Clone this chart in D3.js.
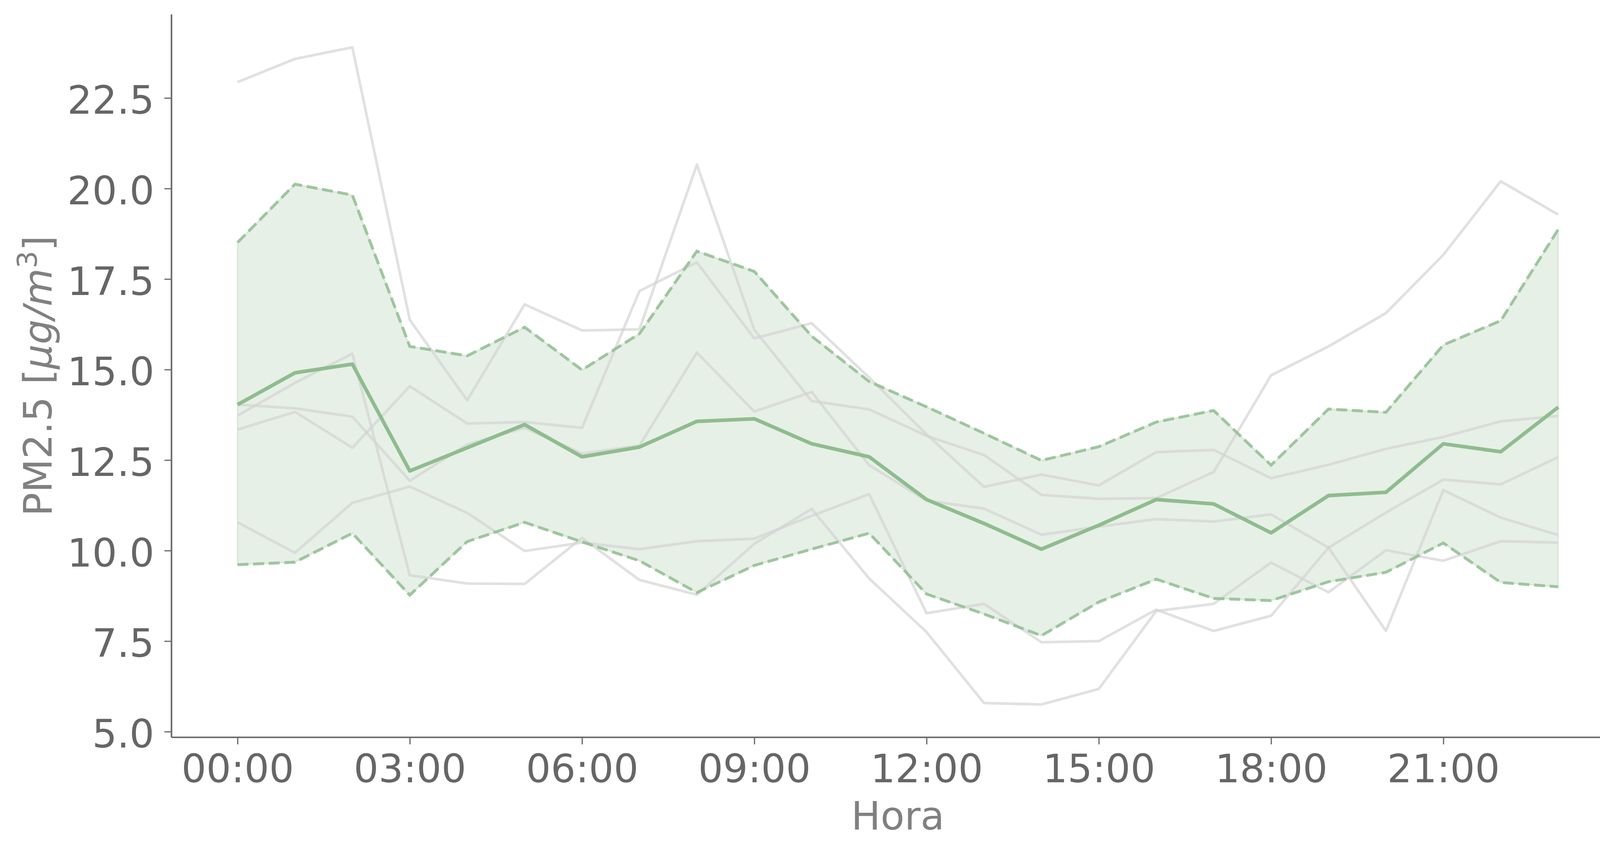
<!DOCTYPE html>
<html>
<head>
<meta charset="utf-8">
<script src="https://cdn.jsdelivr.net/npm/d3@7"></script>
<style>
  body { margin: 0; background: #ffffff; }
  svg { display: block; font-family: "DejaVu Sans", sans-serif; }
</style>
</head>
<body>
<div id="chart"></div>
<script>
const hours = [0, 1, 2, 3, 4, 5, 6, 7, 8, 9, 10, 11, 12, 13, 14, 15, 16, 17, 18, 19, 20, 21, 22, 23];
const xTicks = [0, 3, 6, 9, 12, 15, 18, 21];
const xTickLabels = ['00:00', '03:00', '06:00', '09:00', '12:00', '15:00', '18:00', '21:00'];
const yTicks = [5.0, 7.5, 10.0, 12.5, 15.0, 17.5, 20.0, 22.5];

// mean and mean +/- std
const meanSeries = [14.03, 14.91, 15.15, 12.20, 12.84, 13.48, 12.59, 12.86, 13.57, 13.64, 12.95, 12.59, 11.41, 10.75, 10.04, 10.70, 11.41, 11.29, 10.49, 11.52, 11.61, 12.95, 12.73, 13.96];
const upperSeries = [18.51, 20.12, 19.82, 15.64, 15.38, 16.17, 14.99, 15.99, 18.27, 17.71, 15.92, 14.67, 13.97, 13.24, 12.49, 12.87, 13.55, 13.87, 12.36, 13.91, 13.82, 15.68, 16.35, 18.87];
const lowerSeries = [9.61, 9.68, 10.48, 8.77, 10.25, 10.78, 10.24, 9.72, 8.84, 9.59, 10.04, 10.48, 8.80, 8.25, 7.65, 8.58, 9.21, 8.68, 8.62, 9.14, 9.40, 10.21, 9.12, 9.00];

// individual profiles (grey)
const dayA = [22.94, 23.58, 23.90, 16.37, 14.15, 16.80, 16.08, 16.11, 20.66, 16.10, 14.13, 13.90, 13.17, 12.64, 11.54, 11.43, 11.45, 12.17, 14.84, 15.64, 16.56, 18.17, 20.20, 19.28];
const dayB = [13.34, 13.83, 12.84, 14.54, 13.51, 13.55, 13.39, 17.17, 17.96, 15.86, 16.28, 14.78, 13.21, 11.76, 12.10, 11.80, 12.72, 12.78, 12.00, 12.37, 12.81, 13.14, 13.57, 13.72];
const dayC = [14.03, 13.93, 13.70, 11.93, 12.93, 13.39, 12.68, 12.90, 15.47, 13.84, 14.38, 12.36, 11.38, 11.16, 10.44, 10.66, 10.87, 10.80, 11.00, 10.08, 7.78, 11.67, 10.91, 10.43];
const dayD = [10.78, 9.94, 11.32, 11.77, 11.04, 9.99, 10.22, 10.04, 10.26, 10.33, 10.96, 11.56, 8.27, 8.53, 7.47, 7.50, 8.37, 7.78, 8.20, 10.08, 11.05, 11.96, 11.83, 12.58];
const dayE = [13.73, 14.63, 15.44, 9.32, 9.09, 9.08, 10.35, 9.19, 8.78, 10.19, 11.15, 9.23, 7.75, 5.79, 5.75, 6.18, 8.33, 8.53, 9.67, 8.85, 10.01, 9.72, 10.26, 10.22];
const days = [dayA, dayB, dayC, dayD, dayE];

const W = 4199, H = 2183;
const margin = { top: 37, right: 41, bottom: 296, left: 439 };
const width = W - margin.left - margin.right;
const height = H - margin.top - margin.bottom;

const green = '#8fbc8f';
const axisColor = '#6e6e6e';
const tickColor = '#666666';
const labelColor = '#808080';
const fontSize = 100;

const padExtent = (ext, f = 0.05) => {
  const d = (ext[1] - ext[0]) * f;
  return [ext[0] - d, ext[1] + d];
};

const allValues = days.flat().concat(upperSeries, lowerSeries);
const x = d3.scaleLinear().domain(padExtent(d3.extent(hours))).range([0, width]);
const y = d3.scaleLinear().domain(padExtent(d3.extent(allValues))).range([height, 0]);

const svg = d3.select('#chart')
  .append('svg')
  .attr('width', W)
  .attr('height', H);

svg.append('rect').attr('width', W).attr('height', H).attr('fill', '#ffffff');

const g = svg.append('g').attr('transform', `translate(${margin.left},${margin.top})`);

const line = (vals) => d3.line()
  .x((d, i) => x(hours[i]))
  .y((d) => y(d))(vals);

const area = d3.area()
  .x((d, i) => x(hours[i]))
  .y0((d, i) => y(lowerSeries[i]))
  .y1((d) => y(d));

g.append('path')
  .attr('d', area(upperSeries))
  .attr('fill', green)
  .attr('fill-opacity', 0.22)
  .attr('stroke', green)
  .attr('stroke-opacity', 0.22)
  .attr('stroke-width', 4);

for (const d of days) {
  g.append('path')
    .attr('d', line(d))
    .attr('fill', 'none')
    .attr('stroke', '#d3d3d3')
    .attr('stroke-opacity', 0.68)
    .attr('stroke-width', 6.8)
    .attr('stroke-linejoin', 'round');
}

for (const d of [upperSeries, lowerSeries]) {
  g.append('path')
    .attr('d', line(d))
    .attr('fill', 'none')
    .attr('stroke', green)
    .attr('stroke-opacity', 0.8)
    .attr('stroke-width', 7.5)
    .attr('stroke-dasharray', '28,12');
}

g.append('path')
  .attr('d', line(meanSeries))
  .attr('fill', 'none')
  .attr('stroke', green)
  .attr('stroke-width', 9.3)
  .attr('stroke-linejoin', 'round');

// axes
const xAxis = g.append('g')
  .attr('transform', `translate(0,${height})`)
  .call(d3.axisBottom(x).tickValues(xTicks).tickSize(18).tickPadding(22)
    .tickFormat((d, i) => xTickLabels[i]));

const yAxis = g.append('g')
  .call(d3.axisLeft(y).tickValues(yTicks).tickSize(18).tickPadding(26)
    .tickFormat(d3.format('.1f')));

for (const ax of [xAxis, yAxis]) {
  ax.select('.domain').attr('stroke', axisColor).attr('stroke-width', 4.2);
  ax.selectAll('.tick line').attr('stroke', axisColor).attr('stroke-width', 3.2);
  ax.selectAll('.tick text')
    .attr('fill', tickColor)
    .style('font-family', '"DejaVu Sans", sans-serif')
    .style('font-size', fontSize + 'px');
}
xAxis.select('.domain').attr('d', `M0,0H${width}`);
yAxis.select('.domain').attr('d', `M0,0V${height}`);
xAxis.selectAll('.tick text').attr('dy', null).attr('y', 18 + 22 + 75);
yAxis.selectAll('.tick text').attr('dy', null).attr('y', 40);

g.append('text')
  .attr('x', width / 2)
  .attr('y', 2123 - margin.top)
  .attr('text-anchor', 'middle')
  .attr('fill', labelColor)
  .style('font-size', fontSize + 'px')
  .text('Hora');

const yLabel = g.append('text')
  .attr('transform', `translate(${132 - margin.left},${height / 2}) rotate(-90)`)
  .attr('text-anchor', 'middle')
  .attr('fill', labelColor)
  .style('font-size', fontSize + 'px');
yLabel.append('tspan').text('PM2.5 [');
yLabel.append('tspan').style('font-style', 'italic').text('μg/m');
yLabel.append('tspan').attr('dy', -38).style('font-size', '70px').text('3');
yLabel.append('tspan').attr('dy', 38).text(']');
</script>
</body>
</html>
